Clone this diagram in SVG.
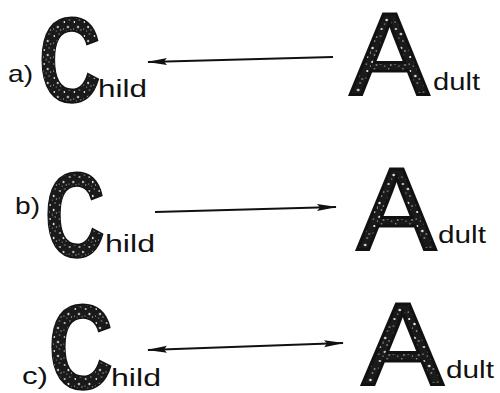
<svg xmlns="http://www.w3.org/2000/svg" width="500" height="393" viewBox="0 0 500 393">
<defs>
<pattern id="speck" width="14" height="14" patternUnits="userSpaceOnUse">
<rect width="14" height="14" fill="#1a1a1a"/>
<circle cx="3" cy="4" r="1" fill="#fff"/>
<circle cx="10" cy="2" r="0.7" fill="#ddd"/>
<circle cx="8" cy="9" r="1.2" fill="#eee"/>
<circle cx="2" cy="11" r="0.6" fill="#fff"/>
<circle cx="12" cy="12" r="0.8" fill="#ccc"/>
<circle cx="6" cy="13" r="0.5" fill="#fff"/>
</pattern>
<marker id="head" viewBox="0 0 20 10" refX="19" refY="5" markerWidth="20" markerHeight="10" markerUnits="userSpaceOnUse" orient="auto-start-reverse">
<path d="M0,1.5 L20,5 L0,8.5 L3,5 Z" fill="#111"/>
</marker>
<style>
.lab{font-family:"Liberation Sans",Arial,sans-serif;font-size:24px;fill:#111}
.sm{font-family:"Liberation Sans",Arial,sans-serif;font-size:23px;fill:#111}
.bigc{font-family:"Liberation Sans",Arial,sans-serif;font-weight:bold;font-size:120px;fill:url(#speck);stroke:#111;stroke-width:1.5}
.biga{font-family:"Liberation Sans",Arial,sans-serif;font-weight:normal;font-size:116px;fill:url(#speck);stroke:#111;stroke-width:3;stroke-linejoin:miter}
.arr{stroke:#111;stroke-width:2;fill:none}
</style>
</defs>
<g id="connectors">
<line class="arr" x1="333" y1="57" x2="148" y2="62" marker-end="url(#head)"/>
<line class="arr" x1="155" y1="212" x2="336" y2="207" marker-end="url(#head)"/>
<line class="arr" x1="148" y1="350" x2="343" y2="343" marker-start="url(#head)" marker-end="url(#head)"/>
</g>
<g id="label-a"><text class="lab" x="8" y="82" textLength="25" lengthAdjust="spacingAndGlyphs">a)</text></g>
<g id="child-a">
<text class="bigc" transform="translate(42,102) scale(0.72,1)" x="-5" y="0">C</text>
<text class="sm" x="98" y="97" textLength="49" lengthAdjust="spacingAndGlyphs">hild</text>
</g>
<g id="adult-a">
<text class="biga" transform="translate(350,95) scale(1.02,1)" x="0" y="0">A</text>
<text class="sm" x="433" y="90" textLength="47" lengthAdjust="spacingAndGlyphs">dult</text>
</g>
<g id="label-b"><text class="lab" x="15" y="214" textLength="25" lengthAdjust="spacingAndGlyphs">b)</text></g>
<g id="child-b">
<text class="bigc" transform="translate(48,257) scale(0.7,1)" x="-5" y="0">C</text>
<text class="sm" x="105" y="252" textLength="50" lengthAdjust="spacingAndGlyphs">hild</text>
</g>
<g id="adult-b">
<text class="biga" transform="translate(357,250) scale(1.02,1)" x="0" y="0">A</text>
<text class="sm" x="438" y="243" textLength="48" lengthAdjust="spacingAndGlyphs">dult</text>
</g>
<g id="label-c"><text class="lab" x="22" y="384" textLength="26" lengthAdjust="spacingAndGlyphs">c)</text></g>
<g id="child-c">
<text class="bigc" transform="translate(52,389) scale(0.75,1)" x="-5" y="0">C</text>
<text class="sm" x="111" y="386" textLength="50" lengthAdjust="spacingAndGlyphs">hild</text>
</g>
<g id="adult-c">
<text class="biga" transform="translate(362,385) scale(1.05,1)" x="0" y="0">A</text>
<text class="sm" x="446" y="378" textLength="48" lengthAdjust="spacingAndGlyphs">dult</text>
</g>
</svg>
